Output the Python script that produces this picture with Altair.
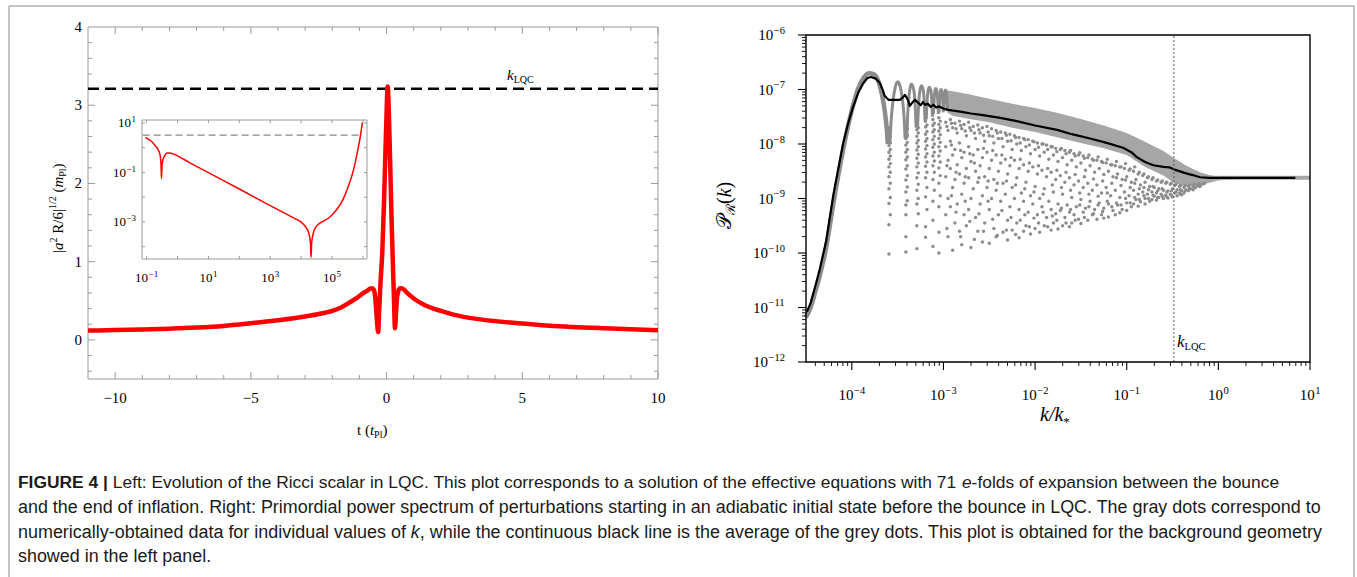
import altair as alt
import pandas as pd

SERIF = "Liberation Serif"
SANS = "Liberation Sans"

# ======================= DATA =======================
# Left panel: |a^2 R/6|^(1/2) (m_Pl) versus t (t_Pl)
LEFT_CURVE = [
    (-11.0, 0.120), (-10.0, 0.125), (-9.0, 0.133), (-8.0, 0.143), (-7.0, 0.157), (-6.0, 0.178),
    (-5.0, 0.212), (-4.0, 0.250), (-3.0, 0.300), (-2.5, 0.330), (-2.0, 0.370), (-1.7, 0.410),
    (-1.4, 0.470), (-1.08, 0.540), (-0.85, 0.600), (-0.71, 0.630), (-0.60, 0.655), (-0.53, 0.660),
    (-0.47, 0.640), (-0.43, 0.580), (-0.39, 0.420), (-0.35, 0.220), (-0.31, 0.100), (-0.27, 0.400),
    (-0.22, 0.750), (-0.16, 1.100), (-0.10, 1.700), (-0.05, 2.300), (0.00, 2.900), (0.04, 3.240),
    (0.08, 2.950), (0.13, 2.300), (0.18, 1.600), (0.23, 1.000), (0.27, 0.550), (0.31, 0.150),
    (0.35, 0.350), (0.39, 0.550), (0.44, 0.630), (0.50, 0.660), (0.55, 0.660), (0.65, 0.640),
    (0.76, 0.600), (1.00, 0.530), (1.38, 0.450), (2.00, 0.370), (2.50, 0.320), (3.00, 0.285),
    (4.00, 0.240), (5.00, 0.210), (6.00, 0.180), (7.00, 0.163), (8.00, 0.150), (9.00, 0.137),
    (10.0, 0.122),
]
K_LQC_LEFT = 3.21

# Inset: (log10 t, log10 value)
INSET_CURVE = [
    (-1.04, 0.42), (-0.93, 0.33), (-0.83, 0.24), (-0.72, 0.08), (-0.62, -0.10), (-0.565, -0.30),
    (-0.535, -0.65), (-0.52, -1.25), (-0.50, -0.70), (-0.47, -0.48), (-0.42, -0.33), (-0.34, -0.21),
    (-0.25, -0.21), (-0.13, -0.26), (0.40, -0.61), (1.00, -1.01), (2.00, -1.67), (3.00, -2.34),
    (3.80, -2.87), (4.00, -3.01), (4.15, -3.21), (4.25, -3.47), (4.30, -3.85), (4.32, -4.43),
    (4.34, -3.85), (4.39, -3.47), (4.47, -3.22), (4.57, -3.08), (4.75, -2.95), (4.92, -2.81),
    (5.15, -2.50), (5.34, -2.13), (5.50, -1.65), (5.63, -1.18), (5.75, -0.60), (5.84, -0.04),
    (5.92, 0.50), (5.98, 1.01),
]

# Right panel (log10 k/k*, log10 P_R)
GRAY_BUMP = [
    (-4.50, -11.18), (-4.45, -11.00), (-4.40, -10.72), (-4.35, -10.42), (-4.28, -9.90), (-4.20, -9.08),
    (-4.10, -8.15), (-4.00, -7.38), (-3.93, -6.98), (-3.87, -6.78), (-3.81, -6.70), (-3.76, -6.72),
    (-3.71, -6.85), (-3.67, -7.10), (-3.64, -7.40), (-3.62, -7.70), (-3.607, -8.00),
]
ARCS = [
    [(-3.585, -8.0), (-3.57, -7.55), (-3.55, -7.2), (-3.525, -6.95), (-3.50, -6.86), (-3.475, -6.93),
     (-3.45, -7.15), (-3.43, -7.5), (-3.418, -7.9)],
    [(-3.40, -7.9), (-3.39, -7.45), (-3.375, -7.1), (-3.35, -6.90), (-3.325, -7.0), (-3.31, -7.25),
     (-3.298, -7.7)],
    [(-3.283, -7.7), (-3.27, -7.25), (-3.255, -7.0), (-3.24, -6.93), (-3.225, -6.98), (-3.21, -7.2),
     (-3.20, -7.6)],
    [(-3.188, -7.55), (-3.178, -7.2), (-3.165, -7.0), (-3.155, -6.96), (-3.14, -7.0), (-3.128, -7.2),
     (-3.12, -7.5)],
    [(-3.11, -7.45), (-3.10, -7.15), (-3.09, -7.0), (-3.083, -6.98), (-3.073, -7.02), (-3.062, -7.2),
     (-3.055, -7.45)],
    [(-3.048, -7.42), (-3.04, -7.15), (-3.032, -7.02), (-3.025, -7.0), (-3.017, -7.03), (-3.008, -7.18),
     (-3.002, -7.42)],
    [(-2.997, -7.40), (-2.99, -7.15), (-2.983, -7.03), (-2.977, -7.01), (-2.97, -7.04), (-2.962, -7.18),
     (-2.956, -7.40)],
]
BAND_LOGK = [-2.96, -2.90, -2.75, -2.50, -2.25, -2.00, -1.75, -1.50, -1.25, -1.00,
             -0.80, -0.60, -0.48, -0.35, -0.20, -0.10, 0.00, 0.10, 0.30, 1.00]
BAND_HI = [-7.02, -7.03, -7.08, -7.17, -7.26, -7.34, -7.43, -7.54, -7.66, -7.80,
           -7.96, -8.13, -8.26, -8.40, -8.52, -8.57, -8.60, -8.61, -8.61, -8.61]
BAND_LO = [-7.42, -7.48, -7.53, -7.60, -7.70, -7.78, -7.88, -7.98, -8.08, -8.20,
           -8.42, -8.58, -8.72, -8.78, -8.75, -8.71, -8.67, -8.65, -8.64, -8.64]

TROUGH_DOTS = [
    (-3.595, [-7.70, -7.80, -7.92, -8.03, -8.15, -8.28, -8.42, -8.60, -8.82, -9.09, -9.48, -10.02]),
    (-3.580, [-7.75, -7.87, -7.98, -8.10, -8.22, -8.36, -8.52, -8.72, -8.98, -9.30]),
    (-3.410, [-7.66, -7.78, -7.90, -8.02, -8.15, -8.29, -8.46, -8.66, -8.88, -9.12, -9.30, -9.70, -9.98]),
    (-3.395, [-7.72, -7.85, -7.97, -8.10, -8.24, -8.40, -8.58, -8.79, -9.04]),
    (-3.290, [-7.62, -7.74, -7.86, -7.98, -8.11, -8.26, -8.42, -8.62, -8.85, -9.10, -9.50, -9.92]),
    (-3.275, [-7.70, -7.80, -7.93, -8.05, -8.19, -8.35, -8.53, -8.74, -9.00, -9.28]),
    (-3.195, [-7.58, -7.69, -7.82, -7.95, -8.09, -8.24, -8.41, -8.62, -8.97, -9.52, -9.71]),
    (-3.180, [-7.65, -7.77, -7.90, -8.03, -8.18, -8.33, -8.52, -8.80, -9.20]),
    (-3.115, [-7.55, -7.66, -7.78, -7.92, -8.06, -8.22, -8.40, -8.65, -9.05, -9.40, -9.88]),
    (-3.100, [-7.62, -7.74, -7.86, -8.00, -8.15, -8.31, -8.52, -8.85]),
    (-3.050, [-7.52, -7.64, -7.76, -7.90, -8.05, -8.22, -8.44, -8.72, -9.15, -9.62, -10.00]),
    (-3.035, [-7.58, -7.70, -7.83, -7.97, -8.13, -8.33, -8.58, -8.95]),
]
SCATTER_DOTS = [
    (-2.975, [-7.60, -8.05, -8.60, -9.30]), (-2.950, [-7.75, -8.30, -9.00, -9.70]),
    (-2.925, [-7.55, -7.95, -8.45, -9.15]), (-2.900, [-7.70, -8.20, -8.80, -9.95]),
    (-2.875, [-7.62, -8.10, -8.65, -9.45]), (-2.850, [-7.80, -8.38, -9.10]),
    (-2.825, [-7.58, -7.98, -8.55, -9.60]), (-2.800, [-7.72, -8.25, -8.92, -9.85]),
    (-2.775, [-7.64, -8.15, -8.72, -9.30]), (-2.750, [-7.85, -8.45, -9.50]),
    (-2.725, [-7.60, -8.05, -8.62, -9.20]), (-2.700, [-7.75, -8.32, -9.00, -9.90]),
    (-2.675, [-7.68, -8.20, -8.82]), (-2.650, [-7.90, -8.50, -9.35]),
    (-2.625, [-7.65, -8.10, -8.70, -9.60]), (-2.600, [-7.80, -8.40, -9.10]),
    (-2.575, [-7.70, -8.25, -8.95, -9.80]), (-2.550, [-7.95, -8.60, -9.45]),
    (-2.525, [-7.68, -8.15, -8.80]), (-2.500, [-7.85, -8.45, -9.20, -9.82]),
    (-2.475, [-7.72, -8.30, -9.00]), (-2.450, [-7.98, -8.65, -9.55]),
    (-2.425, [-7.75, -8.20, -8.85, -9.70]), (-2.400, [-7.90, -8.50, -9.30]),
    (-2.375, [-7.78, -8.35, -9.05]), (-2.350, [-8.05, -8.72, -9.62]),
    (-2.325, [-7.80, -8.28, -8.92]), (-2.300, [-7.95, -8.55, -9.40, -9.76]),
    (-2.275, [-7.82, -8.40, -9.15]), (-2.250, [-8.10, -8.80, -9.58]),
    (-2.225, [-7.85, -8.30, -9.00]), (-2.200, [-8.00, -8.62, -9.45]),
    (-2.175, [-7.88, -8.45, -9.20, -9.72]), (-2.150, [-8.12, -8.90]),
    (-2.125, [-7.90, -8.38, -9.05, -9.60]), (-2.100, [-8.05, -8.70, -9.50]),
    (-2.075, [-7.92, -8.50, -9.25]), (-2.050, [-8.18, -8.95, -9.65]),
    (-2.025, [-7.95, -8.42, -9.10]), (-2.000, [-8.10, -8.78, -9.55]),
    (-1.975, [-7.98, -8.55, -9.30]), (-1.950, [-8.22, -9.00, -9.62]),
    (-1.925, [-8.00, -8.48, -9.15]), (-1.900, [-8.15, -8.82, -9.50]),
    (-1.875, [-8.02, -8.60, -9.35]), (-1.850, [-8.28, -9.05]),
    (-1.825, [-8.05, -8.52, -9.20, -9.58]), (-1.800, [-8.20, -8.88, -9.45]),
    (-1.775, [-8.08, -8.65, -9.28]), (-1.750, [-8.32, -9.10, -9.56]),
    (-1.725, [-8.10, -8.58, -9.22]), (-1.700, [-8.25, -8.92, -9.50]),
    (-1.675, [-8.12, -8.70, -9.35]), (-1.650, [-8.38, -9.12]),
    (-1.625, [-8.15, -8.62, -9.25, -9.52]), (-1.600, [-8.30, -8.98, -9.45]),
    (-1.575, [-8.18, -8.75, -9.30]), (-1.550, [-8.42, -9.15]),
    (-1.525, [-8.20, -8.68, -9.38]), (-1.500, [-8.35, -9.02, -9.46]),
    (-1.475, [-8.22, -8.80, -9.25]), (-1.450, [-8.48, -9.18]),
    (-1.425, [-8.25, -8.72, -9.40]), (-1.400, [-8.40, -9.05]),
    (-1.375, [-8.28, -8.85, -9.30]), (-1.350, [-8.52, -9.20]),
    (-1.325, [-8.30, -8.75, -9.38]), (-1.300, [-8.45, -9.08]),
    (-1.275, [-8.32, -8.90, -9.30]), (-1.250, [-8.56, -9.18, -9.36]),
    (-1.225, [-8.35, -8.80]), (-1.200, [-8.50, -9.10, -9.34]),
    (-1.175, [-8.38, -8.95]), (-1.150, [-8.60, -9.22]),
    (-1.125, [-8.40, -8.85, -9.30]), (-1.100, [-8.55, -9.12]),
    (-1.075, [-8.42, -8.98, -9.26]), (-1.050, [-8.65, -9.20]),
    (-1.025, [-8.45, -8.88]), (-1.000, [-8.60, -9.08, -9.22]),
    (-0.975, [-8.48, -8.95]), (-0.950, [-8.70, -9.15]),
    (-0.925, [-8.50, -8.85, -9.10]), (-0.900, [-8.65, -9.02]),
    (-0.875, [-8.55, -8.92, -9.14]), (-0.850, [-8.75, -9.06]),
    (-0.825, [-8.58, -8.88]), (-0.800, [-8.70, -9.00, -9.10]),
    (-0.775, [-8.62, -8.92]), (-0.750, [-8.78, -9.05]),
    (-0.725, [-8.65, -8.88, -9.02]), (-0.700, [-8.80, -8.96]),
    (-0.675, [-8.68, -8.90, -9.03]), (-0.650, [-8.82, -8.98]),
    (-0.625, [-8.70, -8.92]), (-0.600, [-8.85, -9.00]),
    (-0.575, [-8.72, -8.94]), (-0.550, [-8.86, -8.99]),
    (-0.525, [-8.74, -8.92]), (-0.500, [-8.82, -8.97]),
    (-0.475, [-8.76, -8.90]), (-0.450, [-8.84, -8.95]),
    (-0.425, [-8.78, -8.90]), (-0.400, [-8.86, -8.93]),
    (-0.375, [-8.80, -8.90]), (-0.350, [-8.84]),
    (-0.325, [-8.78, -8.86]), (-0.300, [-8.82]),
    (-0.275, [-8.77, -8.84]), (-0.250, [-8.80]),
    (-0.225, [-8.76]), (-0.200, [-8.78]), (-0.175, [-8.74]), (-0.150, [-8.72]),
]
SCATTER_DOTS_2 = [
    (-2.9625, [-7.68, -8.40, -9.55]), (-2.9125, [-7.62, -8.02, -8.95]), (-2.8625, [-7.72, -8.52, -9.25]),
    (-2.8125, [-7.66, -8.12, -9.70]), (-2.7625, [-7.76, -8.60, -9.05]), (-2.7125, [-7.70, -8.18, -9.42]),
    (-2.6625, [-7.80, -8.35, -9.75]), (-2.6125, [-7.74, -8.62, -9.28]), (-2.5625, [-7.84, -8.08, -9.60]),
    (-2.5125, [-7.78, -8.68, -9.05]), (-2.4625, [-7.86, -8.12, -9.38]), (-2.4125, [-7.80, -8.72, -9.68]),
    (-2.3625, [-7.90, -8.20, -9.22]), (-2.3125, [-7.84, -8.68, -9.58]), (-2.2625, [-7.94, -8.25, -9.35]),
    (-2.2125, [-7.88, -8.75, -9.66]), (-2.1625, [-7.98, -8.28, -9.40]), (-2.1125, [-7.92, -8.82, -9.30]),
    (-2.0625, [-8.02, -8.35, -9.52]), (-2.0125, [-7.96, -8.88, -9.36]), (-1.9625, [-8.06, -8.40, -9.45]),
    (-1.9125, [-8.00, -8.92, -9.25]), (-1.8625, [-8.10, -8.45, -9.52]), (-1.8125, [-8.05, -8.75, -9.32]),
    (-1.7625, [-8.14, -8.48, -9.40]), (-1.7125, [-8.08, -8.80, -9.18]), (-1.6625, [-8.18, -8.52, -9.45]),
    (-1.6125, [-8.12, -8.85, -9.20]), (-1.5625, [-8.22, -8.56, -9.40]), (-1.5125, [-8.16, -8.90, -9.12]),
    (-1.4625, [-8.26, -8.60, -9.35]), (-1.4125, [-8.20, -8.92, -9.15]), (-1.3625, [-8.30, -8.64, -9.28]),
    (-1.3125, [-8.24, -8.96, -9.12]), (-1.2625, [-8.34, -8.68, -9.24]), (-1.2125, [-8.28, -8.90, -9.05]),
    (-1.1625, [-8.38, -8.72, -9.15]), (-1.1125, [-8.32, -8.62, -9.08]), (-1.0625, [-8.42, -8.76, -9.12]),
    (-1.0125, [-8.36, -8.66, -9.00]), (-0.9625, [-8.46, -8.80, -9.08]), (-0.9125, [-8.42, -8.72, -8.98]),
    (-0.8625, [-8.52, -8.82, -9.02]), (-0.8125, [-8.55, -8.80, -8.95]), (-0.7625, [-8.60, -8.84, -9.00]),
    (-0.7125, [-8.62, -8.78, -8.94]), (-0.6625, [-8.66, -8.86, -8.98]), (-0.6125, [-8.68, -8.82, -8.96]),
    (-0.5625, [-8.70, -8.88, -8.97]), (-0.5125, [-8.72, -8.86, -8.94]), (-0.4625, [-8.74, -8.88]),
    (-0.4125, [-8.76, -8.84, -8.92]), (-0.3625, [-8.76, -8.86]), (-0.3125, [-8.75, -8.82]),
    (-0.2625, [-8.74, -8.80]), (-0.2125, [-8.73, -8.77]),
]
BLACK_AVG = [
    (-4.49, -11.08), (-4.45, -10.92), (-4.40, -10.62), (-4.35, -10.30), (-4.28, -9.78), (-4.20, -8.92),
    (-4.095, -7.99), (-4.04, -7.62), (-3.986, -7.32), (-3.93, -7.06), (-3.877, -6.89), (-3.83, -6.79),
    (-3.79, -6.77), (-3.74, -6.80), (-3.694, -6.88), (-3.66, -7.02), (-3.64, -7.12), (-3.60, -7.19),
    (-3.476, -7.19), (-3.44, -7.14), (-3.42, -7.10), (-3.39, -7.18), (-3.367, -7.30), (-3.34, -7.24),
    (-3.31, -7.19), (-3.28, -7.24), (-3.25, -7.29), (-3.225, -7.23), (-3.20, -7.28), (-3.17, -7.26),
    (-3.14, -7.32), (-3.11, -7.28), (-3.08, -7.33), (-3.05, -7.31), (-3.00, -7.35), (-2.93, -7.38),
    (-2.80, -7.41), (-2.70, -7.44), (-2.57, -7.47), (-2.38, -7.52), (-2.20, -7.58), (-2.00, -7.66),
    (-1.76, -7.74), (-1.60, -7.82), (-1.40, -7.90), (-1.22, -7.98), (-1.04, -8.07), (-0.95, -8.15),
    (-0.89, -8.24), (-0.80, -8.33), (-0.71, -8.39), (-0.60, -8.42), (-0.53, -8.43), (-0.46, -8.48),
    (-0.37, -8.53), (-0.28, -8.57), (-0.20, -8.61), (-0.10, -8.62), (0.20, -8.62), (0.84, -8.62),
]
GRAY_TAIL = [(-0.10, -8.62), (1.00, -8.62)]
LOGK_LQC = -0.485

CAPTION = [
    [("FIGURE 4 |", "b"),
     (" Left: Evolution of the Ricci scalar in LQC. This plot corresponds to a solution of the effective equations with 71 ", "r"),
     ("e", "i"), ("-folds of expansion between the bounce", "r")],
    [("and the end of inflation. Right: Primordial power spectrum of perturbations starting in an adiabatic initial state before the bounce in LQC. The gray dots correspond to", "r")],
    [("numerically-obtained data for individual values of ", "r"), ("k", "i"),
     (", while the continuous black line is the average of the grey dots. This plot is obtained for the background geometry", "r")],
    [("showed in the left panel.", "r")],
]
CAPTION_LINE_ENDS = [1279, 1322, 1322, None]
CAPTION_BASELINES = [488, 513, 537.5, 562]

# ======================= font metrics (for placing mixed-style text) =======================
ARIAL = {' ': 278, '!': 278, ',': 278, '-': 333, '.': 278, ':': 278, '|': 260, "'": 191,
         'A': 667, 'B': 667, 'C': 722, 'D': 722, 'E': 667, 'F': 611, 'G': 778, 'H': 722, 'I': 278,
         'J': 500, 'K': 667, 'L': 556, 'M': 833, 'N': 722, 'O': 778, 'P': 667, 'Q': 778, 'R': 722,
         'S': 667, 'T': 611, 'U': 722, 'V': 667, 'W': 944, 'X': 667, 'Y': 667, 'Z': 611,
         'a': 556, 'b': 556, 'c': 500, 'd': 556, 'e': 556, 'f': 278, 'g': 556, 'h': 556, 'i': 222,
         'j': 222, 'k': 500, 'l': 222, 'm': 833, 'n': 556, 'o': 556, 'p': 556, 'q': 556, 'r': 333,
         's': 500, 't': 278, 'u': 556, 'v': 500, 'w': 722, 'x': 500, 'y': 500, 'z': 500}
for _d in "0123456789":
    ARIAL[_d] = 556
ARIAL_B = dict(ARIAL)
ARIAL_B.update({'|': 280, 'F': 611, 'I': 278, 'G': 778, 'U': 722, 'R': 722, 'E': 667})
TIMES = {' ': 250, '(': 333, ')': 333, '/': 278, '|': 200, 'a': 444, 'R': 667, 'P': 556, 'l': 278,
         'm': 778, 't': 278, 'k': 500, 'L': 611, 'Q': 722, 'C': 667, '*': 500, '\u2212': 564,
         '\U0001D4AB': 700, '\u211B': 850}
for _d in "0123456789":
    TIMES[_d] = 500
TIMES_I = dict(TIMES)
TIMES_I.update({'k': 444, 'm': 722, 't': 278, 'a': 500})

ONE = pd.DataFrame({"d": [0]})


def table_for(fam, italic, bold):
    if fam == SANS:
        return ARIAL_B if bold else ARIAL
    return TIMES_I if italic else TIMES


def units(txt, tab):
    return sum(tab.get(c, 500) for c in txt)


def seq(pieces, x0, y0, rotated=False, color="black"):
    out = []
    adv = 0.0
    for txt, fam, size, italic, bold, shift in pieces:
        tab = table_for(fam, italic, bold)
        core = txt.strip(" ")
        lead = len(txt) - len(txt.lstrip(" "))
        trail = len(txt) - len(txt.rstrip(" "))
        adv += lead * tab[" "] * size / 1000.0
        if rotated:
            x, y = x0 - shift, y0 - adv
        else:
            x, y = x0 + adv, y0 - shift
        props = dict(text=core, font=fam, fontSize=size, align="left", baseline="alphabetic", color=color)
        if italic:
            props["fontStyle"] = "italic"
        if bold:
            props["fontWeight"] = "bold"
        if rotated:
            props["angle"] = 270
        out.append(alt.Chart(ONE).mark_text(**props).encode(x=alt.value(x), y=alt.value(y)))
        adv += units(core, tab) * size / 1000.0
        adv += trail * tab[" "] * size / 1000.0
    return out


# ======================= scales =======================
xs_L = alt.Scale(domain=[-11, 10], range=[88, 658], nice=False, zero=False)
ys_L = alt.Scale(domain=[-0.5, 4], range=[379, 27], nice=False, zero=False)
xs_I = alt.Scale(type="log", domain=[10 ** -1.15, 10 ** 6.13], range=[142, 367], nice=False)
ys_I = alt.Scale(type="log", domain=[10 ** -4.5, 10 ** 1.12], range=[259, 120], nice=False)
xs_R = alt.Scale(type="log", domain=[10 ** -4.5, 10], range=[806, 1310], nice=False)
ys_R = alt.Scale(type="log", domain=[1e-12, 1e-6], range=[362, 35], nice=False)


def X(f, s):
    return alt.X(f + ":Q", scale=s, axis=None)


def Y(f, s):
    return alt.Y(f + ":Q", scale=s, axis=None)


def frame(x0, x1, y0, y1, xs, ys, color, width):
    df = pd.DataFrame({"x0": [x0], "x1": [x1], "y0": [y0], "y1": [y1]})
    return alt.Chart(df).mark_rect(fillOpacity=0, stroke=color, strokeWidth=width).encode(
        x=X("x0", xs), x2="x1:Q", y=Y("y0", ys), y2="y1:Q")


def vt(vals, xs, y1, y2, color, w=1.0):
    return alt.Chart(pd.DataFrame({"v": vals})).mark_rule(color=color, strokeWidth=w).encode(
        x=X("v", xs), y=alt.value(y1), y2=alt.value(y2))


def ht(vals, ys, x1, x2, color, w=1.0):
    return alt.Chart(pd.DataFrame({"v": vals})).mark_rule(color=color, strokeWidth=w).encode(
        y=Y("v", ys), x=alt.value(x1), x2=alt.value(x2))


def xlab(vals, texts, xs, y, size, baseline="middle"):
    return alt.Chart(pd.DataFrame({"v": vals, "t": texts})).mark_text(
        font=SERIF, fontSize=size, align="center", baseline=baseline, color="black").encode(
        x=X("v", xs), y=alt.value(y), text="t:N")


def ylab(vals, texts, ys, x, size, baseline="middle", dy=0):
    return alt.Chart(pd.DataFrame({"v": vals, "t": texts})).mark_text(
        font=SERIF, fontSize=size, align="right", baseline=baseline, dy=dy, color="black").encode(
        y=Y("v", ys), x=alt.value(x), text="t:N")


def exp_str(e):
    return ("\u2212" if e < 0 else "") + str(abs(e))


def exp_w(e, size):
    return units(exp_str(e), TIMES) * size / 1000.0


def ylab_pow(exps, ys, right_x, size, esize, dy, rise):
    out = []
    for e in exps:
        we = exp_w(e, esize)
        df = pd.DataFrame({"v": [10.0 ** e]})
        out.append(alt.Chart(df).mark_text(text="10", font=SERIF, fontSize=size, align="right",
                                           baseline="alphabetic", dy=dy, color="black").encode(
            y=Y("v", ys), x=alt.value(right_x - we - 0.5)))
        out.append(alt.Chart(df).mark_text(text=exp_str(e), font=SERIF, fontSize=esize, align="left",
                                           baseline="alphabetic", dy=dy - rise, color="black").encode(
            y=Y("v", ys), x=alt.value(right_x - we)))
    return out


def xlab_pow(exps, xs, y, size, esize, rise):
    out = []
    for e in exps:
        w10 = size * 1.0
        we = exp_w(e, esize)
        w = w10 + we + 0.5
        df = pd.DataFrame({"v": [10.0 ** e]})
        out.append(alt.Chart(df).mark_text(text="10", font=SERIF, fontSize=size, align="left",
                                           baseline="alphabetic", dx=-w / 2, color="black").encode(
            x=X("v", xs), y=alt.value(y)))
        out.append(alt.Chart(df).mark_text(text=exp_str(e), font=SERIF, fontSize=esize, align="left",
                                           baseline="alphabetic", dx=-w / 2 + w10 + 0.5, color="black").encode(
            x=X("v", xs), y=alt.value(y - rise)))
    return out


# ======================= left panel =======================
df_main = pd.DataFrame(LEFT_CURVE, columns=["t", "v"])
GRAYF = "#9a9a9a"
L_MAJ_X = [-10, -5, 0, 5, 10]
L_MIN_X = [i for i in range(-10, 10) if i % 5 != 0]
L_MAJ_Y = [0, 1, 2, 3]
L_MIN_Y = [round(-0.4 + 0.2 * i, 1) for i in range(22) if abs(round(-0.4 + 0.2 * i, 1) % 1) > 1e-9]

left_parts = [
    frame(-11, 10, -0.5, 4, xs_L, ys_L, GRAYF, 1),
    vt(L_MAJ_X, xs_L, 379, 372, GRAYF), vt(L_MIN_X, xs_L, 379, 375, GRAYF),
    vt(L_MAJ_X, xs_L, 27, 34, GRAYF), vt(L_MIN_X, xs_L, 27, 31, GRAYF),
    ht(L_MAJ_Y, ys_L, 88, 95, GRAYF), ht(L_MIN_Y, ys_L, 88, 92, GRAYF),
    ht(L_MAJ_Y, ys_L, 658, 651, GRAYF), ht(L_MIN_Y, ys_L, 658, 654, GRAYF),
    alt.Chart(pd.DataFrame({"a": [-11], "b": [10], "v": [K_LQC_LEFT]})).mark_rule(
        color="black", strokeWidth=2.5, strokeDash=[11, 6]).encode(x=X("a", xs_L), x2="b:Q", y=Y("v", ys_L)),
    alt.Chart(df_main).mark_line(color="#ff0000", strokeWidth=4.5, interpolate="monotone",
                                 strokeJoin="round").encode(x=X("t", xs_L), y=Y("v", ys_L)),
    xlab(L_MAJ_X, ["\u221210", "\u22125", "0", "5", "10"], xs_L, 398, 15),
    ylab([0, 1, 2, 3, 4], ["0", "1", "2", "3", "4"], ys_L, 82, 15),
]
left_layer = alt.layer(*left_parts)

# ======================= inset =======================
df_in = pd.DataFrame({"t": [10 ** a for a, b in INSET_CURVE], "v": [10 ** b for a, b in INSET_CURVE]})
I_X_DEC = [10.0 ** e for e in range(-1, 7)]
I_Y_DEC = [10.0 ** e for e in range(-4, 2)]
inset_parts = [
    frame(10 ** -1.15, 10 ** 6.13, 10 ** -4.5, 10 ** 1.12, xs_I, ys_I, GRAYF, 1),
    vt(I_X_DEC, xs_I, 259, 256, GRAYF), vt(I_X_DEC, xs_I, 120, 123, GRAYF),
    ht(I_Y_DEC, ys_I, 142, 145, GRAYF), ht(I_Y_DEC, ys_I, 367, 364, GRAYF),
    alt.Chart(pd.DataFrame({"a": [10 ** -1.13], "b": [10 ** 5.95], "v": [K_LQC_LEFT]})).mark_rule(
        color="#888888", strokeWidth=1.3, strokeDash=[7, 4]).encode(x=X("a", xs_I), x2="b:Q", y=Y("v", ys_I)),
    alt.Chart(df_in).mark_line(color="#ff0000", strokeWidth=1.5, interpolate="monotone").encode(
        x=X("t", xs_I), y=Y("v", ys_I)),
]
inset_parts += xlab_pow([-1, 1, 3, 5], xs_I, 282, 13, 9, 5)
inset_parts += ylab_pow([1, -1, -3], ys_I, 136, 13, 9, 4.5, 5)
inset_layer = alt.layer(*inset_parts)

# ======================= right panel =======================
DOTC = "#8c8c8c"
BANDC = "#a6a6a6"


def kdf(pairs):
    return pd.DataFrame({"k": [10 ** a for a, b in pairs], "p": [10 ** b for a, b in pairs]})


df_band = pd.DataFrame({"k": [10 ** a for a in BAND_LOGK], "hi": [10 ** b for b in BAND_HI],
                        "lo": [10 ** b for b in BAND_LO]})
arc_rows = []
for i, arc in enumerate(ARCS):
    for a, b in arc:
        arc_rows.append({"arc": i, "k": 10 ** a, "p": 10 ** b})
df_arcs = pd.DataFrame(arc_rows)
dot_rows = []
for lk, vals in TROUGH_DOTS + SCATTER_DOTS + SCATTER_DOTS_2:
    for v in vals:
        dot_rows.append({"k": 10 ** lk, "p": 10 ** v})
df_dots = pd.DataFrame(dot_rows)

R_MAJ_Y = [10.0 ** e for e in range(-12, -5)]
R_MIN_Y = [m * 10.0 ** e for e in range(-12, -6) for m in range(2, 10)]
R_MAJ_X = [10.0 ** e for e in range(-4, 2)]
R_MIN_X = [m * 10.0 ** e for e in range(-5, 1) for m in range(2, 10) if 10 ** -4.5 <= m * 10.0 ** e <= 10]

right_parts = [
    alt.Chart(df_band).mark_area(color=BANDC, opacity=1).encode(x=X("k", xs_R), y=Y("hi", ys_R), y2="lo:Q"),
    alt.Chart(kdf(GRAY_TAIL)).mark_line(color=BANDC, strokeWidth=4).encode(x=X("k", xs_R), y=Y("p", ys_R)),
    alt.Chart(df_arcs).mark_line(color=DOTC, strokeWidth=3, interpolate="monotone").encode(
        x=X("k", xs_R), y=Y("p", ys_R), detail="arc:N"),
    alt.Chart(df_dots).mark_circle(size=12, color=DOTC, opacity=1).encode(x=X("k", xs_R), y=Y("p", ys_R)),
    alt.Chart(kdf(GRAY_BUMP)).mark_line(color=DOTC, strokeWidth=4.5, interpolate="monotone").encode(
        x=X("k", xs_R), y=Y("p", ys_R)),
    alt.Chart(kdf(BLACK_AVG)).mark_line(color="black", strokeWidth=2.2, strokeJoin="round").encode(
        x=X("k", xs_R), y=Y("p", ys_R)),
    alt.Chart(pd.DataFrame({"k": [10 ** LOGK_LQC], "a": [1e-12], "b": [1e-6]})).mark_rule(
        color="#555555", strokeWidth=1, strokeDash=[2, 2]).encode(x=X("k", xs_R), y=Y("a", ys_R), y2="b:Q"),
    frame(10 ** -4.5, 10, 1e-12, 1e-6, xs_R, ys_R, "black", 1.4),
    ht(R_MAJ_Y, ys_R, 806, 798, "black", 1.1), ht(R_MIN_Y, ys_R, 806, 802, "black", 0.9),
    vt(R_MAJ_X, xs_R, 362, 370, "black", 1.1), vt(R_MIN_X, xs_R, 362, 366, "black", 0.9),
]
right_parts += ylab_pow(list(range(-12, -5)), ys_R, 785, 15, 10.5, 5, 6.5)
right_parts += xlab_pow(list(range(-4, 2)), xs_R, 400, 15, 10.5, 6.5)
right_layer = alt.layer(*right_parts)

# ======================= free text (titles, annotations, caption) =======================
texts = []
# left y title
texts += seq([("|", SERIF, 15, False, False, 0), ("a", SERIF, 15, True, False, 0),
              ("2", SERIF, 10, False, False, 6), (" R/6|", SERIF, 15, False, False, 0),
              ("1/2", SERIF, 10, False, False, 7), (" (", SERIF, 15, False, False, 0),
              ("m", SERIF, 15, True, False, 0), ("Pl", SERIF, 10, False, False, -3),
              (")", SERIF, 15, False, False, 0)], 63, 253, rotated=True)
# left x title
texts += seq([("t (", SERIF, 15, False, False, 0), ("t", SERIF, 15, True, False, 0),
              ("Pl", SERIF, 10, False, False, -3), (")", SERIF, 15, False, False, 0)], 357, 435)
# left k_LQC
texts += seq([("k", SERIF, 15, True, False, 0), ("LQC", SERIF, 10, False, False, -3)], 507, 80)
# right k_LQC
texts += seq([("k", SERIF, 17, True, False, 0), ("LQC", SERIF, 10.5, False, False, -3)], 1177, 347)
# right x title
texts += seq([("k/k", SERIF, 20, True, False, 0), ("*", SERIF, 13, False, False, -5)], 1040, 421)
# right y title
texts += seq([("\U0001D4AB", SERIF, 20, False, False, 0), ("\u211B", SERIF, 13, False, False, -4),
              ("(", SERIF, 20, False, False, 0), ("k", SERIF, 20, True, False, 0),
              (")", SERIF, 20, False, False, 0)], 731, 229, rotated=True)

# caption: each line's font size fitted to the measured line length
base_units = units(CAPTION[1][0][0], ARIAL)
base_fs = 1304 * 1000.0 / base_units
for line, end, base in zip(CAPTION, CAPTION_LINE_ENDS, CAPTION_BASELINES):
    if end is None:
        fs = base_fs
    else:
        u = sum(units(t, ARIAL_B if s == "b" else ARIAL) for t, s in line)
        fs = (end - 18) * 1000.0 / u
    fs = round(fs, 2)
    pieces = [(t, SANS, fs, s == "i", s == "b", 0) for t, s in line]
    texts += seq(pieces, 18, base, color="#1a1a1a")

# outer border of the figure
border = alt.Chart(ONE).mark_rect(fillOpacity=0, stroke="#8a8a8a", strokeWidth=1).encode(
    x=alt.value(9), x2=alt.value(1354), y=alt.value(6), y2=alt.value(600))

chart = alt.layer(border, left_layer, inset_layer, right_layer, *texts).resolve_scale(
    x="independent", y="independent"
).properties(
    width=1357, height=577, padding=0, autosize=alt.AutoSizeParams(type="none"),
    background="white"
).configure_view(strokeWidth=0)

chart.save("out.html", embed_options={"renderer": "svg", "actions": False})
